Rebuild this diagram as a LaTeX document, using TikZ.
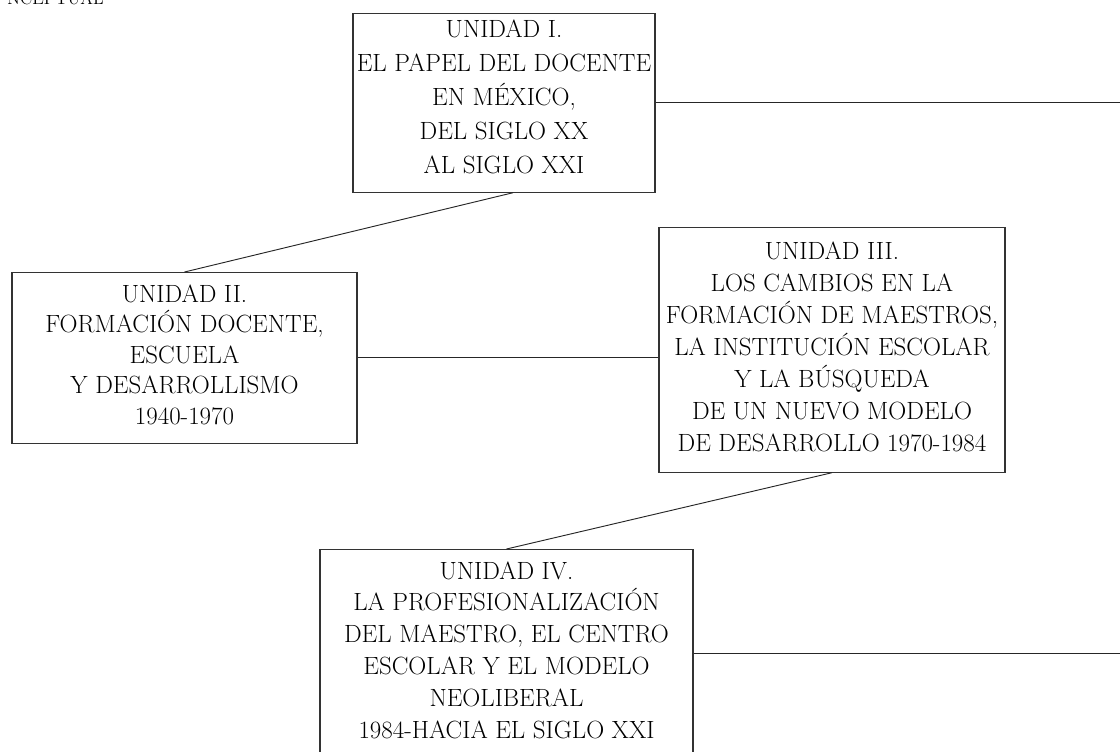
\documentclass[tikz,border=0pt]{standalone}
\usetikzlibrary{calc}
\begin{document}
\begin{tikzpicture}[x=0.75pt,y=-0.75pt,
  unidad/.style={draw=black!80,line width=0.8pt,align=center,anchor=north,inner xsep=0pt},
  letra/.style={font=\fontsize{18.7}{#1}\selectfont},
  linea/.style={draw=black!85,line width=0.7pt}]
\useasboundingbox (0,0) rectangle (1120,751);
\clip (0,0) rectangle (1120,751);
\coordinate (borde) at (1120,0);
\node[anchor=base east,inner sep=0pt,font=\fontsize{13}{15}\selectfont] (titulo) at (104,4) {NCEPTUAL};
\node[unidad,letra=25.5pt,minimum width=226.5pt,inner ysep=4.5pt,text depth=9.75pt] (u1) at (504,13) {UNIDAD I.\\EL PAPEL DEL DOCENTE\\EN MÉXICO,\\DEL SIGLO XX\\AL SIGLO XXI};
\node[unidad,letra=22.9pt,minimum width=258.75pt,inner ysep=9pt,text depth=5.25pt] (u2) at (184.5,272) {UNIDAD II.\\FORMACIÓN DOCENTE,\\ESCUELA\\Y DESARROLLISMO\\1940-1970};
\node[unidad,letra=24pt,minimum width=259.5pt,inner ysep=10.5pt,text depth=5.25pt] (u3) at (832,227) {UNIDAD III.\\LOS CAMBIOS EN LA\\FORMACIÓN DE MAESTROS,\\LA INSTITUCIÓN ESCOLAR\\Y LA BÚSQUEDA\\DE UN NUEVO MODELO\\DE DESARROLLO 1970-1984};
\node[unidad,letra=23.85pt,minimum width=279.75pt,inner ysep=9pt,text depth=15.75pt] (u4) at (506.5,549) {UNIDAD IV.\\LA PROFESIONALIZACIÓN\\DEL MAESTRO, EL CENTRO\\ESCOLAR Y EL MODELO\\NEOLIBERAL\\1984-HACIA EL SIGLO XXI};
\draw[linea] (u1.east) -- (u1.east -| borde);
\draw[linea] ($(u1.south west)!0.53!(u1.south east)$) -- (u2.north);
\draw[linea] (u2.east) -- (u2.east -| u3.west);
\draw[linea] (u3.south) -- (u4.north);
\draw[linea] (u4.north east) ++(0,104) coordinate (c4) -- (c4 -| borde);
\end{tikzpicture}
\end{document}
